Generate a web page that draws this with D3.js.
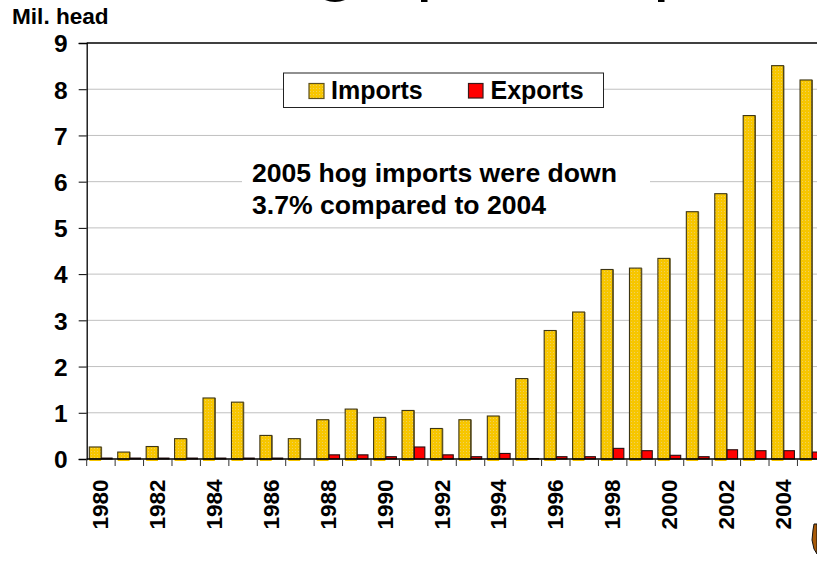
<!DOCTYPE html>
<html><head><meta charset="utf-8">
<script src="https://cdnjs.cloudflare.com/ajax/libs/d3/7.8.5/d3.min.js"></script>
<style>html,body{margin:0;padding:0;background:#fff;overflow:hidden}svg{display:block}text{font-family:"Liberation Sans",Arial,sans-serif;font-weight:700;fill:#000}</style>
</head><body><svg id="c" width="817" height="569"></svg>
<script>
const years=[1980,1981,1982,1983,1984,1985,1986,1987,1988,1989,1990,1991,1992,1993,1994,1995,1996,1997,1998,1999,2000,2001,2002,2003,2004,2005];
const imports=[0.26,0.15,0.27,0.44,1.32,1.23,0.51,0.44,0.85,1.08,0.9,1.05,0.66,0.85,0.93,1.74,2.78,3.18,4.1,4.13,4.34,5.35,5.74,7.43,8.51,8.2];
const exports_=[0.02,0.02,0.02,0.02,0.02,0.02,0.02,0,0.09,0.09,0.05,0.26,0.09,0.05,0.12,0.01,0.05,0.05,0.23,0.18,0.08,0.05,0.2,0.18,0.18,0.15];
const yTicks=[0,1,2,3,4,5,6,7,8,9];
const legendLabels=["Imports","Exports"];
const noteLines=["2005 hog imports were down","3.7% compared to 2004"];
const unitLabel="Mil. head";

const svg=d3.select("#c");
const defs=svg.append("defs");
const pat=defs.append("pattern").attr("id","dots").attr("patternUnits","userSpaceOnUse").attr("width",3).attr("height",3);
pat.append("rect").attr("width",3).attr("height",3).attr("fill","#f7c600");
pat.append("rect").attr("x",1).attr("y",1).attr("width",1).attr("height",1).attr("fill","#efd060");

const x0=86.7, step=28.43, yZero=459, yTop=43;
const x=d3.scaleBand().domain(years).range([x0,x0+step*years.length]).paddingInner(0).paddingOuter(0);
const y=d3.scaleLinear().domain([0,9]).range([yZero,yTop]);

// clipped title descenders at the very top edge
svg.append("path").attr("d","M325,0 Q335,4 345,0 Z").attr("fill","#000");
svg.append("rect").attr("x",421).attr("y",0).attr("width",6.5).attr("height",2).attr("fill","#000");
svg.append("rect").attr("x",658).attr("y",0).attr("width",6.5).attr("height",2).attr("fill","#000");

// gridlines
svg.append("g").selectAll("line").data(yTicks.filter(d=>d>0&&d<9)).join("line")
 .attr("x1",x0).attr("x2",817).attr("y1",d=>y(d)).attr("y2",d=>y(d)).attr("stroke","#c0c0c0").attr("stroke-width",1);

// note background
svg.append("rect").attr("x",242).attr("y",160).attr("width",408).attr("height",62).attr("fill","#fff");

const barW=11.8;
const gI=svg.append("g");
// baseline yellow strip under the axis
gI.selectAll("rect.u").data(imports).join("rect").attr("class","u")
 .attr("x",(d,i)=>x(years[i])+2.6).attr("y",yZero).attr("width",barW).attr("height",2).attr("fill","#f7c600");
gI.selectAll("rect.b").data(imports).join("rect").attr("class","b")
 .attr("x",(d,i)=>x(years[i])+2.6).attr("y",d=>y(d)).attr("width",barW).attr("height",d=>yZero-y(d))
 .attr("fill","url(#dots)").attr("stroke","#3d3514").attr("stroke-width",1.1);
// right-hand shadow edge
gI.selectAll("rect.s").data(imports).join("rect").attr("class","s")
 .attr("x",(d,i)=>x(years[i])+2.6+barW).attr("y",d=>y(d)).attr("width",1).attr("height",d=>yZero-y(d)).attr("fill","#5c5020");
const gE=svg.append("g");
gE.selectAll("rect.b").data(exports_).join("rect").attr("class","b")
 .attr("x",(d,i)=>x(years[i])+15).attr("y",d=>y(d)).attr("width",10.4).attr("height",d=>yZero-y(d))
 .attr("fill","#ff0000").attr("stroke","#2a1010").attr("stroke-width",1.1);

// axes
const yAxis=d3.axisLeft(y).tickValues(yTicks).tickSize(8).tickPadding(11).tickFormat(d3.format("d"));
const ya=svg.append("g").attr("transform",`translate(${x0},0)`).call(yAxis);
ya.select(".domain").attr("stroke","#000").attr("stroke-width",1.3);
ya.selectAll(".tick line").attr("stroke","#000").attr("stroke-width",1);
ya.selectAll("text").style("font-size","24.5px").attr("dy","0.36em").attr("fill","#000");
svg.append("line").attr("x1",x0).attr("x2",817).attr("y1",yTop).attr("y2",yTop).attr("stroke","#000").attr("stroke-width",1.3);
svg.append("line").attr("x1",x0).attr("x2",817).attr("y1",yZero).attr("y2",yZero).attr("stroke","#000").attr("stroke-width",1.3);

// x ticks
const xt=svg.append("g");
xt.selectAll("line").data(years).join("line").attr("x1",d=>x(d)).attr("x2",d=>x(d)).attr("y1",yZero).attr("y2",yZero+7).attr("stroke","#333").attr("stroke-width",1);
xt.selectAll("text").data(years.filter((d,i)=>i%2===0)).join("text")
 .attr("transform",d=>`translate(${x(d)+x.bandwidth()/2+7.5},529.5) rotate(-90)`)
 .style("font-size","22.5px").text(d=>d);

// legend
const lg=svg.append("g");
lg.append("rect").attr("x",283.5).attr("y",73).attr("width",320).attr("height",34.5).attr("fill","#fff").attr("stroke","#222").attr("stroke-width",1);
lg.append("rect").attr("x",309).attr("y",83.5).attr("width",15).attr("height",15).attr("fill","url(#dots)").attr("stroke","#5c5020").attr("stroke-width",1.2);
lg.append("rect").attr("x",468.5).attr("y",83.5).attr("width",14.5).attr("height",14.5).attr("fill","#ff0000").attr("stroke","#3a1a1a").attr("stroke-width",1.2);
lg.selectAll("text").data(legendLabels).join("text").attr("x",(d,i)=>i?490.5:331).attr("y",99).style("font-size","25px").text(d=>d);

// note
svg.append("g").selectAll("text").data(noteLines).join("text").attr("x",252).attr("y",(d,i)=>182+i*31.5).style("font-size","26.6px").text(d=>d);

svg.append("text").attr("x",12).attr("y",24).style("font-size","22.6px").text(unitLabel);

// hog logo fragment at the lower-right edge
svg.append("path").attr("d","M817,524 L814,524 L813,530 L812,540 L814,549 L817,554 Z").attr("fill","#a85a08").attr("stroke","#111").attr("stroke-width",1);
</script></body></html>
